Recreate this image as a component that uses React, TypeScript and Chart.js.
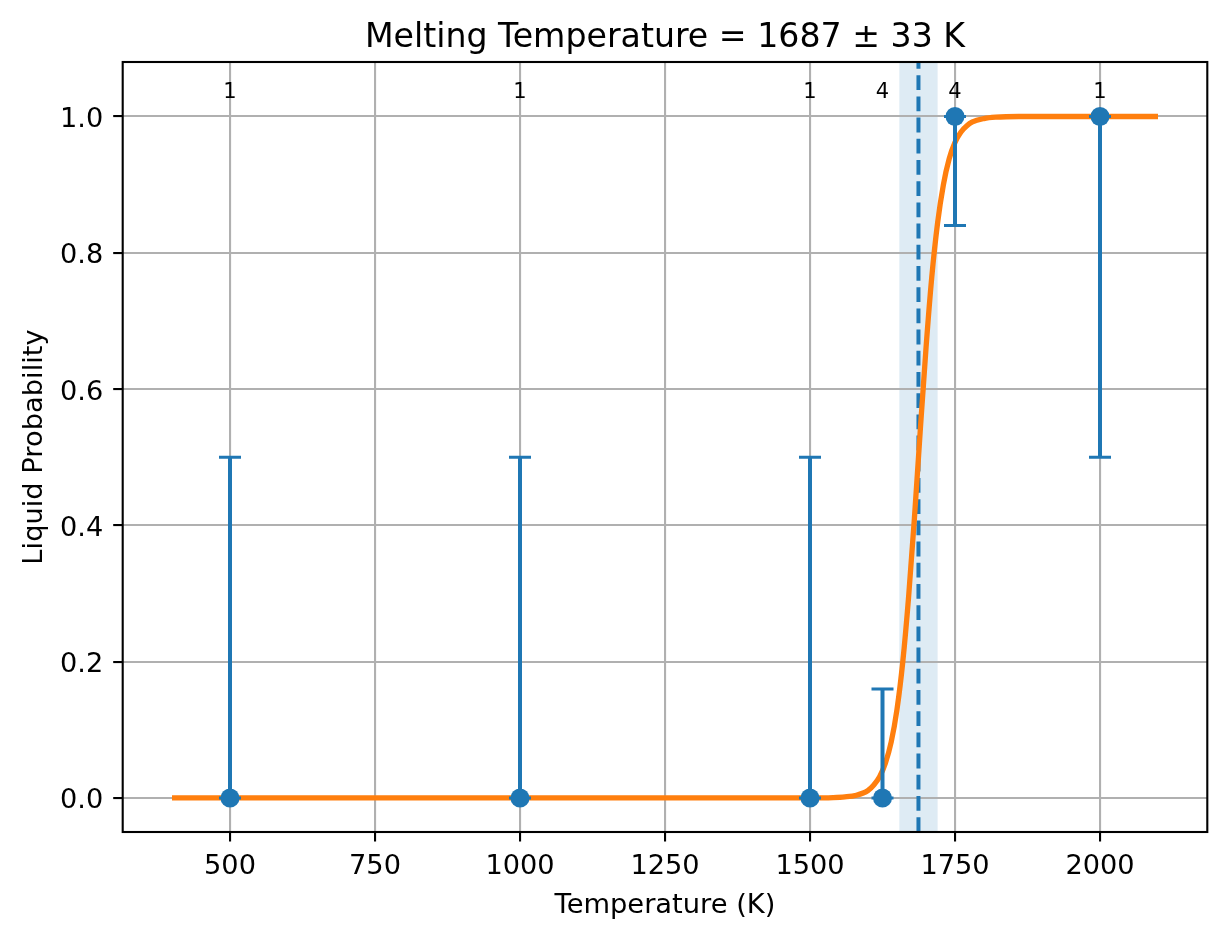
import React, { useEffect, useRef } from 'react';
import { Chart, registerables } from 'chart.js';

Chart.register(...registerables);

const FONT = 'DejaVu Sans';
const BLUE = '#1f77b4';
const ORANGE = '#ff7f0e';

// simulation runs
const temps = [500, 1000, 1500, 1625, 1750, 2000];
const liquidProb = [0, 0, 0, 0, 1, 1];
const errLower = [0, 0, 0, 0, 0.16, 0.5];
const errUpper = [0.5, 0.5, 0.5, 0.16, 0, 0];
const runCounts = [1, 1, 1, 4, 4, 1];

// fitted curve
const fitTemps = [
  400, 1500, 1540, 1560, 1580, 1600, 1610, 1620, 1630, 1640, 1650, 1660, 1670,
  1680, 1690, 1700, 1710, 1720, 1730, 1740, 1750, 1760, 1770, 1780, 1800, 1820,
  1860, 2100,
];
const fitProb = [
  0, 0, 0.0005, 0.0015, 0.004, 0.011, 0.019, 0.031, 0.051, 0.082, 0.13, 0.2,
  0.295, 0.41, 0.538, 0.66, 0.765, 0.844, 0.9, 0.938, 0.962, 0.977, 0.986,
  0.992, 0.997, 0.999, 1, 1,
];

const meltT = 1687;
const meltErr = 33;
const countLabelY = 1.03;

const xTicks = [500, 750, 1000, 1250, 1500, 1750, 2000];
const yTicks = [0, 0.2, 0.4, 0.6, 0.8, 1.0];

const overlayPlugin = {
  id: 'overlay',
  beforeDraw(chart: any) {
    // uncertainty band, under the grid
    const { ctx, chartArea: a, scales } = chart;
    const l = scales.x.getPixelForValue(meltT - meltErr);
    const r = scales.x.getPixelForValue(meltT + meltErr);
    ctx.save();
    ctx.fillStyle = 'rgba(31, 119, 180, 0.15)';
    ctx.fillRect(l, a.top, r - l, a.bottom - a.top);
    ctx.restore();
  },
  beforeDatasetsDraw(chart: any) {
    const { ctx, chartArea: a, scales } = chart;
    const x = scales.x.getPixelForValue(meltT);
    ctx.save();
    ctx.strokeStyle = BLUE;
    ctx.lineWidth = 4;
    ctx.setLineDash([14.8, 6.4]);
    ctx.beginPath();
    ctx.moveTo(x, a.bottom);
    ctx.lineTo(x, a.top);
    ctx.stroke();
    ctx.restore();
  },
  afterDatasetDraw(chart: any, args: any) {
    // error bars go over the curve, under the markers
    if (args.index !== 1) return;
    const { ctx, scales } = chart;
    ctx.save();
    ctx.strokeStyle = BLUE;
    temps.forEach((t, i) => {
      const x = scales.x.getPixelForValue(t);
      const y1 = scales.y.getPixelForValue(liquidProb[i] - errLower[i]);
      const y2 = scales.y.getPixelForValue(liquidProb[i] + errUpper[i]);
      ctx.lineWidth = 4;
      ctx.beginPath();
      ctx.moveTo(x, y1);
      ctx.lineTo(x, y2);
      ctx.stroke();
      ctx.lineWidth = 3;
      ctx.beginPath();
      ctx.moveTo(x - 11, y1);
      ctx.lineTo(x + 11, y1);
      ctx.moveTo(x - 11, y2);
      ctx.lineTo(x + 11, y2);
      ctx.stroke();
    });
    ctx.restore();
  },
  afterDraw(chart: any) {
    const { ctx, chartArea: a, scales } = chart;
    ctx.save();
    ctx.strokeStyle = '#000';
    ctx.lineWidth = 2.1;
    ctx.strokeRect(a.left, a.top, a.right - a.left, a.bottom - a.top);

    ctx.fillStyle = '#000';
    ctx.textAlign = 'center';
    ctx.textBaseline = 'alphabetic';

    ctx.font = `21px "${FONT}"`;
    const labelY = scales.y.getPixelForValue(countLabelY) + 2.4;
    temps.forEach((t, i) => {
      ctx.fillText(String(runCounts[i]), scales.x.getPixelForValue(t), labelY);
    });

    const cx = (a.left + a.right) / 2;
    ctx.font = `33.2px "${FONT}"`;
    ctx.fillText('Melting Temperature = 1687 ± 33 K', cx, a.top - 15.5);

    ctx.font = `27.3px "${FONT}"`;
    ctx.fillText('Temperature (K)', cx, a.bottom + 80.5);

    ctx.translate(41.7, (a.top + a.bottom) / 2);
    ctx.rotate(-Math.PI / 2);
    ctx.fillText('Liquid Probability', 0, 0);
    ctx.restore();
  },
};

const App: React.FC = () => {
  const chartRef = useRef<HTMLCanvasElement>(null);
  const chartInstance = useRef<Chart | null>(null);

  useEffect(() => {
    document.body.style.margin = '0';
    if (!chartRef.current) return;

    const tickFont = { family: FONT, size: 27.2 };
    const grid = {
      color: '#b0b0b0',
      lineWidth: 2.1,
      tickColor: '#000',
      tickWidth: 2.1,
      tickLength: 9.5,
    };

    chartInstance.current = new Chart(chartRef.current, {
      type: 'scatter',
      data: {
        datasets: [
          {
            label: 'runs',
            data: temps.map((t, i) => ({ x: t, y: liquidProb[i] })),
            backgroundColor: BLUE,
            borderColor: BLUE,
            pointRadius: 9.5,
            pointBorderWidth: 0,
            showLine: false,
          },
          {
            label: 'fit',
            data: fitTemps.map((t, i) => ({ x: t, y: fitProb[i] })),
            borderColor: ORANGE,
            borderWidth: 5.3,
            pointRadius: 0,
            showLine: true,
            cubicInterpolationMode: 'monotone',
          },
        ],
      },
      options: {
        animation: false,
        responsive: false,
        layout: { padding: { left: 0, right: 19.7, top: 62, bottom: 0 } },
        plugins: {
          legend: { display: false },
          tooltip: { enabled: false },
          title: { display: false },
        },
        scales: {
          x: {
            type: 'linear',
            min: 315,
            max: 2185,
            afterBuildTicks: (s: any) => {
              s.ticks = xTicks.map((value) => ({ value }));
            },
            afterFit: (s: any) => {
              s.height = 107;
            },
            grid,
            border: { display: false },
            ticks: {
              font: tickFont,
              color: '#000',
              padding: 9,
              maxRotation: 0,
              autoSkip: false,
              callback: (v: any) => String(v),
            },
          },
          y: {
            type: 'linear',
            min: -0.05,
            max: 1.08,
            afterBuildTicks: (s: any) => {
              s.ticks = yTicks.map((value) => ({ value }));
            },
            afterFit: (s: any) => {
              s.width = 122.7;
            },
            grid,
            border: { display: false },
            ticks: {
              font: tickFont,
              color: '#000',
              padding: 10,
              labelOffset: 3.4,
              autoSkip: false,
              callback: (v: any) => Number(v).toFixed(1),
            },
          },
        },
      },
      plugins: [overlayPlugin],
    } as any);

    return () => {
      if (chartInstance.current) {
        chartInstance.current.destroy();
        chartInstance.current = null;
      }
    };
  }, []);

  return (
    <div style={{ width: 1227, height: 939 }}>
      <canvas ref={chartRef} width={1227} height={939} style={{ display: 'block' }} />
    </div>
  );
};

export default App;
